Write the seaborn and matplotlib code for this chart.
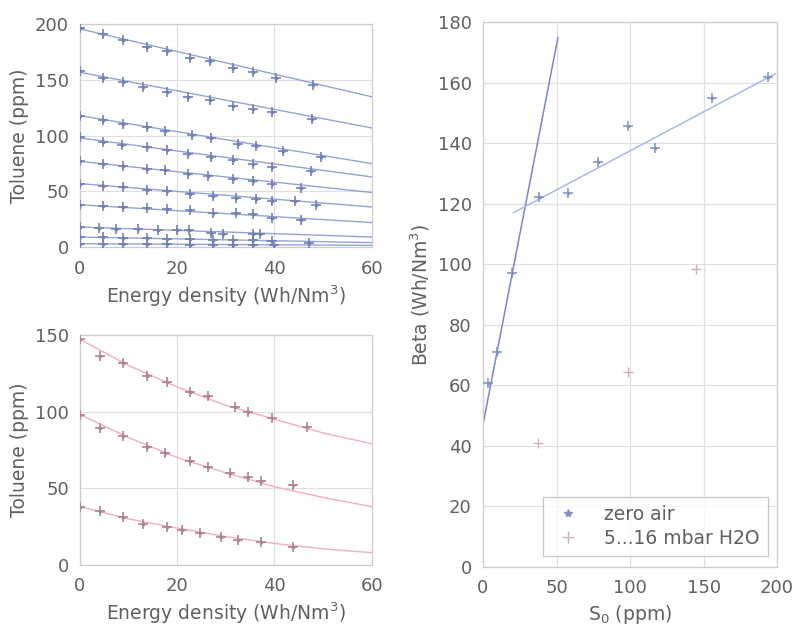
import matplotlib
matplotlib.use("Agg")
import matplotlib.pyplot as plt
import numpy as np
import pandas as pd
import seaborn as sns

# top-left: toluene decay, zero air (one list per inlet concentration)
TOP_X = [
    [0, 4.8, 8.9, 13.7, 17.8, 22.6, 26.7, 31.5, 35.5, 40.4, 47.9],
    [0, 4.8, 8.8, 13.0, 17.8, 22.2, 26.7, 31.5, 35.6, 39.5, 47.8],
    [0, 4.8, 8.9, 13.7, 17.5, 23.0, 27.0, 32.5, 36.3, 41.7, 49.5],
    [0, 4.8, 8.6, 13.7, 17.8, 22.2, 27.0, 31.5, 35.5, 39.5, 47.6],
    [0, 4.8, 8.9, 13.7, 17.5, 22.3, 26.4, 31.5, 35.5, 39.5, 45.5],
    [0, 4.8, 8.9, 13.7, 17.8, 22.6, 27.4, 32.0, 36.3, 39.5, 44.2, 48.5],
    [0, 4.8, 8.9, 13.7, 17.8, 22.6, 27.4, 32.0, 35.5, 39.4, 45.5],
    [0, 4.0, 7.5, 12.0, 16.0, 20.0, 22.5, 27.0, 29.5, 35.5, 37.0],
    [0, 4.8, 8.9, 13.7, 17.8, 22.6, 27.4, 31.5, 35.5, 39.5, 47.0],
    [0, 4.8, 8.9, 13.7, 17.8, 22.6, 27.4, 31.5, 35.5, 40.0],
]
TOP_Y = [
    [197, 191, 186, 180, 176, 170, 167, 161, 157, 152, 146],
    [158, 152, 148, 144, 139, 135, 132, 127, 124, 121, 115],
    [118, 114, 111, 108, 104, 101, 98, 93, 91, 86, 81],
    [99, 94, 92, 90, 87, 84, 81, 78, 75, 72, 68],
    [77, 75, 73, 70, 69, 66, 64, 61, 59, 57, 53],
    [57, 55, 54, 51, 50, 48, 46, 44, 43, 41, 41, 38],
    [38, 37, 36, 35, 34, 33, 31, 31, 30, 26, 24],
    [18, 17, 16, 16, 15, 15, 15, 13, 12, 12, 12],
    [9, 9, 8, 8, 7, 7, 6, 6, 6, 5, 4],
    [3, 3, 3, 3, 3, 2, 2, 2, 2, 2],
]
TOP_FIT_X = [0, 60]
TOP_FIT_Y = [
    [196, 135], [157, 107], [118, 75], [98, 63], [77, 49],
    [57, 36], [38, 22], [18, 9], [9, 4], [3, 1.5],
]

# bottom-left: toluene decay, humid air
BOT_X = [
    [0, 4.1, 8.9, 13.7, 17.8, 22.6, 26.4, 31.8, 34.5, 39.5, 46.6],
    [0, 4.1, 8.9, 13.7, 17.5, 22.6, 26.4, 30.9, 34.5, 37.3, 43.8],
    [0, 4.1, 8.9, 13.0, 17.8, 20.9, 24.7, 29.1, 32.5, 37.3, 43.8],
]
BOT_Y = [
    [147, 136, 131.5, 123, 119.5, 113, 110, 103, 100, 95.5, 90],
    [98, 89, 84, 77, 73, 67.5, 64, 60, 57.5, 54.5, 52],
    [38, 35, 31, 27, 25, 23, 20.7, 18.5, 16.3, 15.2, 12],
]
BOT_FIT_X = [0, 10, 20, 30, 40, 50, 60]
BOT_FIT_Y = [
    [147, 130, 116, 104, 95, 86, 79],
    [98, 83, 70, 60, 51, 44, 38],
    [38, 30, 24, 18.5, 14, 10.5, 8],
]

# right: beta vs inlet concentration
ZERO_S0 = [3.6, 9.3, 20, 38.3, 58, 78.5, 98.4, 117, 155.6, 193.7]
ZERO_BETA = [60.7, 71.1, 97, 122.3, 123.4, 133.9, 145.6, 138.3, 155, 162]
H2O_S0 = [37.6, 98.4, 145]
H2O_BETA = [40.8, 64.5, 98.6]
STEEP_X = [0, 51]
STEEP_Y = [47, 175]
FLAT_X = [20.6, 199]
FLAT_Y = [117, 163]

TEXT = "#606060"
BLUE_LINE = "#95a2d6"
BLUE_MARK = "#7480b0"
RED_LINE = "#f4adbc"
RED_MARK = "#ab8590"
FS = 13.5
TICK_FS = 13

sns.set_theme(style="whitegrid")
plt.rcParams.update({
    "font.family": ["DejaVu Sans"],
    "font.size": FS,
    "axes.labelsize": FS,
    "axes.edgecolor": "#cccccc",
    "axes.linewidth": 0.9,
    "axes.labelcolor": TEXT,
    "xtick.color": TEXT,
    "ytick.color": TEXT,
    "xtick.labelsize": TICK_FS,
    "ytick.labelsize": TICK_FS,
    "grid.color": "#e0e0e0",
    "grid.linewidth": 0.9,
    "xtick.major.pad": 3,
    "ytick.major.pad": 2,
    "axes.labelpad": 4,
})

fig = plt.figure(figsize=(7.95, 6.27), dpi=100)
ax1 = fig.add_axes([0.1006, 0.606, 0.367, 0.355])
ax2 = fig.add_axes([0.1006, 0.099, 0.367, 0.367])
ax3 = fig.add_axes([0.6075, 0.0957, 0.370, 0.869])


def decay_panel(ax, xs, ys, fit_x, fit_y, line_c, mark_c, ymax, yticks):
    for x, y, fy in zip(xs, ys, fit_y):
        fit = pd.DataFrame({"x": fit_x, "y": fy})
        sns.lineplot(data=fit, x="x", y="y", ax=ax, color=line_c, lw=1.0, sort=False)
        pts = pd.DataFrame({"x": x, "y": y})
        sns.scatterplot(data=pts, x="x", y="y", ax=ax, marker="+", s=45,
                        color=mark_c, linewidth=1.2, zorder=3)
        sns.scatterplot(data=pts, x="x", y="y", ax=ax, marker="o", s=7,
                        color=mark_c, linewidth=0, zorder=3)
    ax.set_xlim(0, 60)
    ax.set_ylim(0, ymax)
    ax.set_xticks([0, 20, 40, 60])
    ax.set_yticks(yticks)
    ax.set_xlabel("Energy density (Wh/Nm$^3$)", color=TEXT)
    ax.set_ylabel("Toluene (ppm)", color=TEXT)


decay_panel(ax1, TOP_X, TOP_Y, TOP_FIT_X, TOP_FIT_Y, BLUE_LINE, BLUE_MARK,
            200, [0, 50, 100, 150, 200])
decay_panel(ax2, BOT_X, BOT_Y, BOT_FIT_X, BOT_FIT_Y, RED_LINE, RED_MARK,
            150, [0, 50, 100, 150])

sns.lineplot(x=STEEP_X, y=STEEP_Y, ax=ax3, color="#7c86c4", lw=1.1)
sns.lineplot(x=FLAT_X, y=FLAT_Y, ax=ax3, color="#aab8e6", lw=1.1)
sns.scatterplot(x=ZERO_S0, y=ZERO_BETA, ax=ax3, marker="+", s=50,
                color="#8590bc", linewidth=1.1, zorder=3)
sns.scatterplot(x=ZERO_S0, y=ZERO_BETA, ax=ax3, marker="o", s=7,
                color="#8590bc", linewidth=0, zorder=3)
sns.scatterplot(x=H2O_S0, y=H2O_BETA, ax=ax3, marker="+", s=50,
                color="#c8b2bb", linewidth=1.0, zorder=3)
ax3.set_xlim(0, 200)
ax3.set_ylim(0, 180)
ax3.set_xticks([0, 50, 100, 150, 200])
ax3.set_yticks(np.arange(0, 181, 20))
ax3.set_xlabel("S$_0$ (ppm)", color=TEXT)
ax3.set_ylabel("Beta (Wh/Nm$^3$)", color=TEXT)

h1 = plt.Line2D([], [], color="#8590bc", marker="*", ls="", ms=6)
h2 = plt.Line2D([], [], color="#c8b2bb", marker="+", ls="", ms=8)
leg = ax3.legend([h1, h2], ["zero air", "5...16 mbar H2O"], loc="lower right",
                 bbox_to_anchor=(0.968, 0.02), frameon=True, fancybox=False,
                 fontsize=FS, handletextpad=1.0, borderpad=0.45, labelspacing=0.25,
                 handlelength=1.8, borderaxespad=0.0)
leg.get_frame().set_edgecolor("#bbbbbb")
leg.get_frame().set_linewidth(0.9)
for t in leg.get_texts():
    t.set_color(TEXT)

for ax in (ax1, ax2, ax3):
    for s in ax.spines.values():
        s.set_visible(True)
        s.set_color("#cccccc")

fig.savefig("out.png", dpi=100)
